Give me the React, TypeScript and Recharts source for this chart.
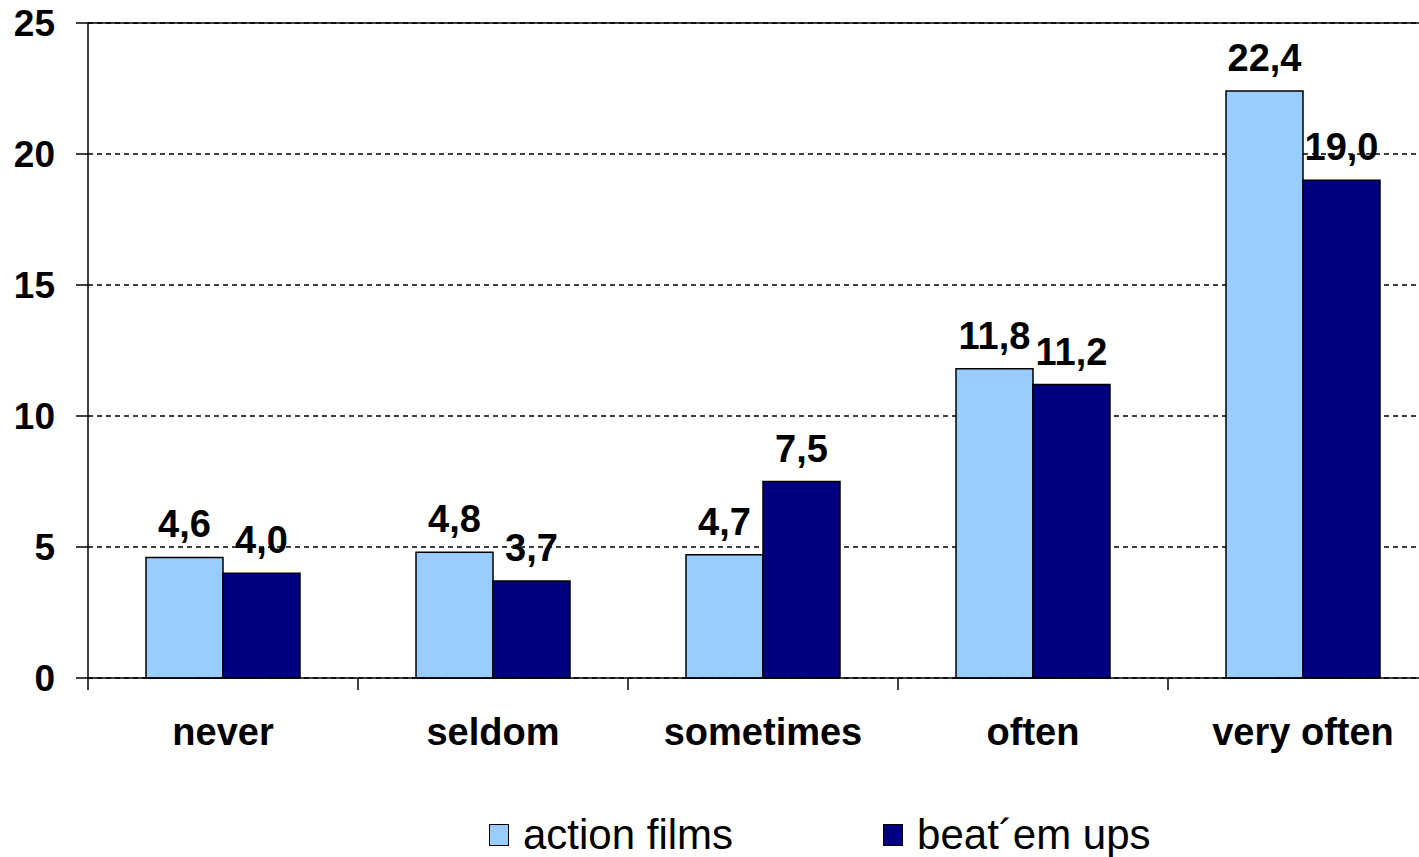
import { BarChart, Bar, XAxis, YAxis, CartesianGrid, Legend, LabelList, ReferenceLine } from "recharts";

const categories: string[] = ["never", "seldom", "sometimes", "often", "very often"];
const actionFilms: number[] = [4.6, 4.8, 4.7, 11.8, 22.4];
const beatEmUps: number[] = [4.0, 3.7, 7.5, 11.2, 19.0];
const yTicks: number[] = [0, 5, 10, 15, 20, 25];

const data = categories.map((c, i) => ({ name: c, action: actionFilms[i], beat: beatEmUps[i] }));

const FONT = "Arial, 'Liberation Sans', sans-serif";
const fmt = (v: any) => Number(v).toFixed(1).replace(".", ",");

const XTick = (props: any) => {
  const { x, y, payload, index } = props;
  const off = payload.offset || 0;
  return (
    <g>
      <line x1={x - off} x2={x - off} y1={y} y2={y + 12} stroke="#000" strokeWidth={1.5} />
      {index === categories.length - 1 && (
        <line x1={x + off} x2={x + off} y1={y} y2={y + 12} stroke="#000" strokeWidth={1.5} />
      )}
      <text x={x} y={y + 67} textAnchor="middle" fontFamily={FONT} fontWeight="bold" fontSize={38} fill="#000">
        {payload.value}
      </text>
    </g>
  );
};

const MyLegend = (props: any) => {
  const items = props.payload || [];
  return (
    <div style={{ display: "flex", alignItems: "center", height: 45, paddingLeft: 489, fontFamily: FONT, fontSize: 42 }}>
      {items.map((it: any, i: number) => (
        <div key={i} style={{ display: "flex", alignItems: "center", marginRight: i === 0 ? 150 : 0 }}>
          <span style={{ width: 20, height: 22, background: it.color, border: "1.5px solid #000", boxSizing: "border-box", marginRight: 14, display: "inline-block" }} />
          <span style={{ color: "#000" }}>{it.value}</span>
        </div>
      ))}
    </div>
  );
};

const App = () => (
  <div style={{ position: "absolute", left: 0, top: 0, width: 1419, height: 857, overflow: "hidden", background: "#fff" }}>
    <BarChart
      width={1440}
      height={857}
      data={data}
      margin={{ top: 23, right: 2, bottom: 0, left: 0 }}
      barGap={0}
      barSize={77}
    >
      <CartesianGrid vertical={false} stroke="#000" strokeDasharray="5 4" strokeWidth={1.5} />
      <ReferenceLine y={25} stroke="#000" strokeWidth={1.5} />
      <XAxis
        dataKey="name"
        height={134}
        tickSize={0}
        tickMargin={0}
        tickLine={false}
        axisLine={{ stroke: "#000", strokeWidth: 1.5 }}
        tick={<XTick />}
        interval={0}
      />
      <YAxis
        width={88}
        domain={[0, 25]}
        ticks={yTicks}
        tickSize={12}
        tickMargin={21}
        axisLine={{ stroke: "#000", strokeWidth: 1.5 }}
        tickLine={{ stroke: "#000", strokeWidth: 1.5 }}
        tick={{ fill: "#000", fontFamily: FONT, fontWeight: "bold", fontSize: 37 }}
      />
      <Legend verticalAlign="bottom" content={<MyLegend />} wrapperStyle={{ left: 0, width: 1419 }} />
      <Bar dataKey="action" name="action films" fill="#99CCFF" stroke="#000" strokeWidth={1.5} isAnimationActive={false}>
        <LabelList dataKey="action" position="top" offset={20} formatter={fmt} fill="#000" fontFamily={FONT} fontWeight="bold" fontSize={38} />
      </Bar>
      <Bar dataKey="beat" name="beat´em ups" fill="#000080" stroke="#000" strokeWidth={1.5} isAnimationActive={false}>
        <LabelList dataKey="beat" position="top" offset={20} formatter={fmt} fill="#000" fontFamily={FONT} fontWeight="bold" fontSize={38} />
      </Bar>
    </BarChart>
  </div>
);

export default App;
